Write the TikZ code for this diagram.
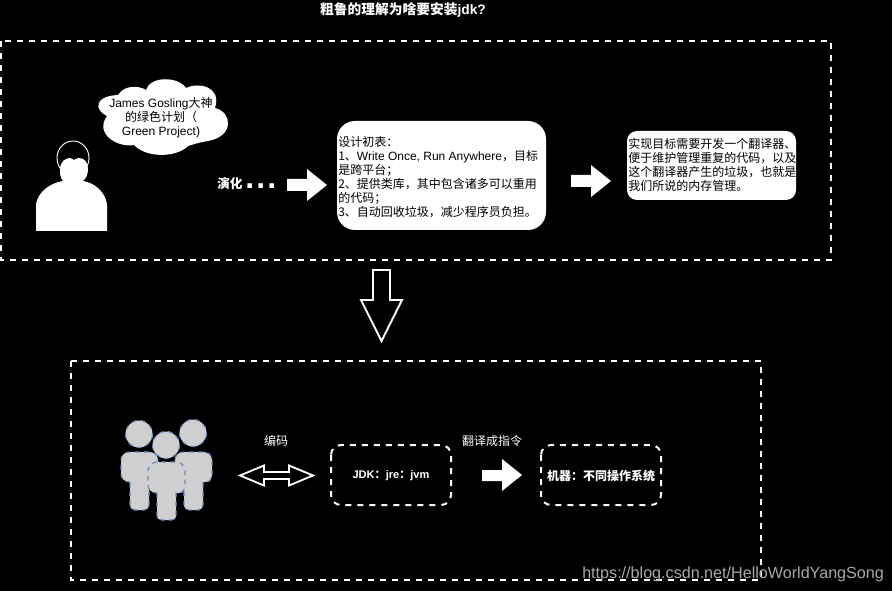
\documentclass[tikz,border=0pt]{standalone}
\usepackage{fontspec}
\setmainfont{Noto Sans CJK SC}
\newfontfamily\latf{Liberation Sans}
\newcommand{\lat}[1]{{\latf #1}}
\tikzset{
  x=0.75pt,y=-0.75pt,
  dashbox/.style={draw=white,line width=1.5pt,dash pattern=on 4.5pt off 4.5pt},
  whitebox/.style={fill=white,draw=none},
  blockarrow/.style={fill=white,draw=none},
  hollowarrow/.style={draw=white,line width=1.4pt,fill=black,miter limit=10},
  peoplepart/.style={fill=figgrey,draw=figblue,line width=0.9pt,dash pattern=on 3.5pt off 3.5pt},
  txt/.style={inner sep=0pt,font=\fontsize{9pt}{10.5pt}\selectfont},
  lighttxt/.style={txt,text=white},
  darktxt/.style={txt,text=black,align=left,anchor=north west},
}
\definecolor{figgrey}{HTML}{CFCFCF}
\definecolor{figblue}{HTML}{6C8EBF}
\definecolor{wmgrey}{HTML}{A8A8A8}
\begin{document}
\begin{tikzpicture}
\useasboundingbox[fill=black] (0,0) rectangle (892,591);
\node[lighttxt,font=\fontsize{10.3pt}{12pt}\selectfont\bfseries] (title) at (403,10) {粗鲁的理解为啥要安装\lat{\bfseries jdk?}};
\draw[dashbox] (1,41) rectangle (831,260);
\draw[dashbox] (71,361) rectangle (761,580);
% person
\draw[white,line width=0.7pt] (73,158) ellipse (16 and 17);
\fill[white] (36,231) -- (36,204) .. controls (38,192) and (50,183) .. (63,181)
  .. controls (60,177) and (60,174) .. (60,170)
  .. controls (60,161) and (66,158) .. (70,158)
  .. controls (72,158) and (73,160) .. (74,160)
  .. controls (75,160) and (76,158) .. (79,158)
  .. controls (84,158) and (88,162) .. (88,169)
  .. controls (88,175) and (86,178) .. (83,181)
  .. controls (95,183) and (105,192) .. (107,204) -- (107,231) -- cycle;
% cloud
\fill[white] (118,95) .. controls (125,84) and (140,86) .. (146,90)
  .. controls (150,76) and (178,76) .. (186,88)
  .. controls (198,82) and (222,86) .. (215,108)
  .. controls (232,112) and (235,136) .. (208,141)
  .. controls (196,143) and (192,145) .. (188,146)
  .. controls (176,158) and (146,158) .. (134,145)
  .. controls (118,148) and (94,134) .. (107,116)
  .. controls (94,110) and (94,96) .. (118,95) -- cycle;
\node[txt,text=black,align=center,font=\fontsize{9pt}{10.5pt}\selectfont] (cloudtext) at (161,117.5)
  {\lat{James Gosling}大神\\的绿色计划（\\\lat{Green Project)}};
\node[lighttxt,font=\fontsize{9.5pt}{11pt}\selectfont\bfseries,anchor=west] (evolve) at (217,184) {演化};
\node[lighttxt,anchor=base west,font=\latf\bfseries\fontsize{24pt}{26pt}\selectfont] (dots) at (245,188.5) {.\kern1.6pt.\kern1.6pt.};
\fill[blockarrow] (287,179) -- (307,179) -- (307,169) -- (327,185) -- (307,201) -- (307,191) -- (287,191) -- cycle;
\fill[whitebox,rounded corners=13.5pt] (337,121) rectangle (546,230);
\node[darktxt] (design) at (338,136) {设计初表：\\1、\lat{Write Once, Run Anywhere}，目标\\是跨平台；\\2、提供类库，其中包含诸多可以重用\\的代码；\\3、自动回收垃圾，减少程序员负担。};
\fill[blockarrow] (571,175) -- (591,175) -- (591,165) -- (611,181) -- (591,197) -- (591,187) -- (571,187) -- cycle;
\fill[whitebox,rounded corners=7.5pt] (627,131) rectangle (796,200);
\node[darktxt] (goal) at (628,138.5) {实现目标需要开发一个翻译器、\\便于维护管理重复的代码，以及\\这个翻译器产生的垃圾，也就是\\我们所说的内存管理。};
% big arrow
\draw[hollowarrow] (373,270) -- (390,270) -- (390,300) -- (402,300) -- (381.5,341) -- (361,300) -- (373,300) -- cycle;
% people
\draw[peoplepart] (130,482) -- (130,504) .. controls (130,508) and (132,510) .. (135,510) -- (144,510) .. controls (147,510) and (149,508) .. (149,504) -- (149,482) -- (152,482) .. controls (156,482) and (158,478) .. (158,474) -- (158,460) .. controls (158,455) and (154,452) .. (149,452) -- (130,452) .. controls (125,452) and (121,455) .. (121,460) -- (121,474) .. controls (121,478) and (124,482) .. (130,482) -- cycle;
\draw[peoplepart] (184,482) -- (184,504) .. controls (184,508) and (186,510) .. (189,510) -- (198,510) .. controls (201,510) and (203,508) .. (203,504) -- (203,482) -- (206,482) .. controls (210,482) and (212,478) .. (212,474) -- (212,460) .. controls (212,455) and (208,452) .. (203,452) -- (184,452) .. controls (179,452) and (175,455) .. (175,460) -- (175,474) .. controls (175,478) and (178,482) .. (184,482) -- cycle;
\draw[peoplepart] (139,434) circle (13.5);
\draw[peoplepart] (193,433) circle (13.5);
\draw[peoplepart] (157,493) -- (157,515) .. controls (157,519) and (159,520) .. (162,520) -- (171,520) .. controls (174,520) and (176,519) .. (176,515) -- (176,493) -- (179,493) .. controls (183,493) and (185,489) .. (185,485) -- (185,471) .. controls (185,466) and (181,462) .. (176,462) -- (157,462) .. controls (152,462) and (148,466) .. (148,471) -- (148,485) .. controls (148,489) and (151,493) .. (157,493) -- cycle;
\draw[peoplepart] (166,445) circle (13.5);
\node[lighttxt] (code) at (276,441) {编码};
\draw[hollowarrow] (240,475.5) -- (264,465.5) -- (264,472) -- (289,472) -- (289,465.5) -- (313,475.5) -- (289,485.5) -- (289,479) -- (264,479) -- (264,485.5) -- cycle;
\draw[dashbox,rounded corners=7.5pt] (331,445) rectangle (451,505);
\node[txt,text=white,font=\latf\bfseries\fontsize{8.3pt}{10pt}\selectfont] (jdk) at (391,476) {JDK{\rmfamily\bfseries\fontsize{8.3pt}{10pt}\selectfont ：}jre{\rmfamily\bfseries\fontsize{8.3pt}{10pt}\selectfont ：}jvm};
\node[lighttxt] (translate) at (492,441) {翻译成指令};
\fill[blockarrow] (482,470) -- (502,470) -- (502,459) -- (522,475) -- (502,491) -- (502,481) -- (482,481) -- cycle;
\draw[dashbox,rounded corners=7.5pt] (541,445) rectangle (661,505);
\node[lighttxt,font=\fontsize{9pt}{10.5pt}\selectfont\bfseries] (machine) at (601,476) {机器：不同操作系统};
\node[txt,text=wmgrey,anchor=base west,font=\latf\fontsize{12.1pt}{14pt}\selectfont] (mark) at (582,578) {https://blog.csdn.net/HelloWorldYangSong};
\end{tikzpicture}
\end{document}
